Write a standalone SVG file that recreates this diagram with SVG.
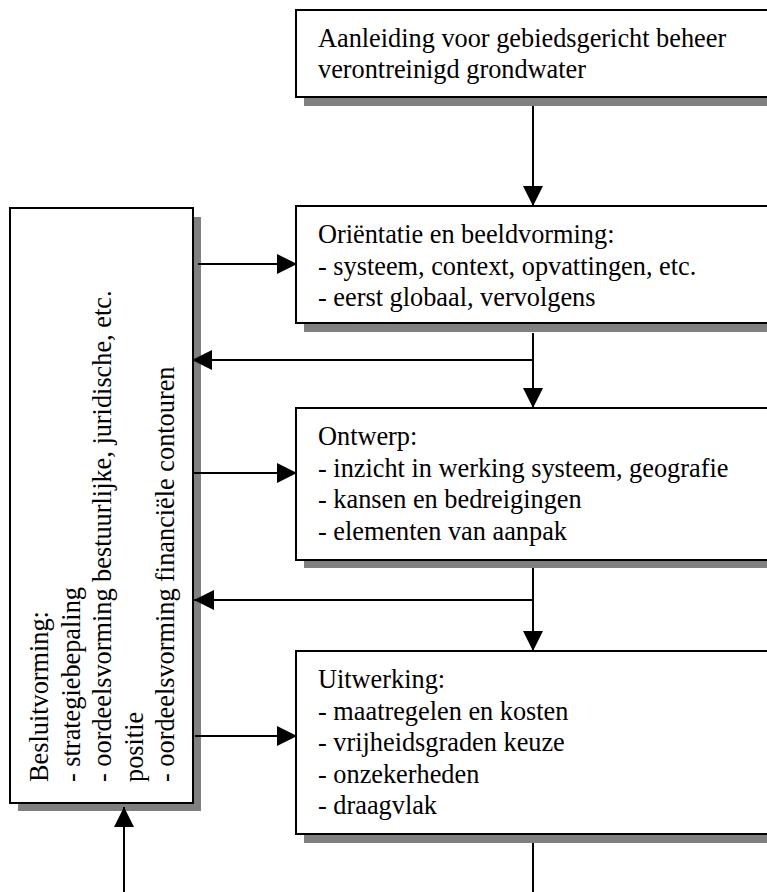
<svg xmlns="http://www.w3.org/2000/svg" width="767" height="892" viewBox="0 0 767 892">
<style>
.box{fill:#fff;stroke:#000;stroke-width:2}
.sh{fill:#808080}
.t{font-family:"Liberation Serif","Times New Roman",serif;font-size:26.3px;fill:#000}
.c{fill:none;stroke:#000;stroke-width:2}
</style>
<defs>
<marker id="ah" viewBox="0 0 20 20" markerUnits="userSpaceOnUse" markerWidth="20" markerHeight="20" refX="20" refY="10" orient="auto">
<path d="M0,0 L20,10 L0,20 z" fill="#000"/>
</marker>
</defs>
<rect width="767" height="892" fill="#fff"/>
<g id="aanleiding">
<rect class="sh" x="304" y="19" width="500" height="87"/>
<rect class="box" x="296" y="10" width="500" height="87"/>
<text class="t"><tspan x="318" y="47">Aanleiding voor gebiedsgericht beheer</tspan><tspan x="318" y="78">verontreinigd grondwater</tspan></text>
</g>
<g id="orientatie">
<rect class="sh" x="304" y="215" width="500" height="117"/>
<rect class="box" x="296" y="206" width="500" height="117"/>
<text class="t"><tspan x="318" y="243">Oriëntatie en beeldvorming:</tspan><tspan x="318" y="274.6">- systeem, context, opvattingen, etc.</tspan><tspan x="318" y="306.2">- eerst globaal, vervolgens</tspan></text>
</g>
<g id="ontwerp">
<rect class="sh" x="304" y="417" width="500" height="151"/>
<rect class="box" x="296" y="408" width="500" height="152"/>
<text class="t"><tspan x="318" y="445">Ontwerp:</tspan><tspan x="318" y="476.6">- inzicht in werking systeem, geografie</tspan><tspan x="318" y="508.2">- kansen en bedreigingen</tspan><tspan x="318" y="539.8">- elementen van aanpak</tspan></text>
</g>
<g id="uitwerking">
<rect class="sh" x="304" y="660" width="500" height="183"/>
<rect class="box" x="296" y="651" width="500" height="183"/>
<text class="t"><tspan x="318" y="688">Uitwerking:</tspan><tspan x="318" y="719.6">- maatregelen en kosten</tspan><tspan x="318" y="751.2">- vrijheidsgraden keuze</tspan><tspan x="318" y="782.8">- onzekerheden</tspan><tspan x="318" y="814.4">- draagvlak</tspan></text>
</g>
<g id="besluitvorming">
<rect class="sh" x="18" y="217" width="183" height="594"/>
<rect class="box" x="10" y="208" width="183" height="595"/>
<text class="t" transform="translate(0,782) rotate(-90)"><tspan x="0" y="48">Besluitvorming:</tspan><tspan x="0" y="79.6">- strategiebepaling</tspan><tspan x="0" y="111.2">- oordeelsvorming bestuurlijke, juridische, etc.</tspan><tspan x="0" y="142.8">positie</tspan><tspan x="0" y="174.4">- oordeelsvorming financiële contouren</tspan></text>
</g>
<g id="connectors">
<path class="c" d="M533,106 V206" marker-end="url(#ah)"/>
<path class="c" d="M198,264 H297" marker-end="url(#ah)"/>
<path class="c" d="M533,360 H192" marker-end="url(#ah)"/>
<path class="c" d="M533,333 V408" marker-end="url(#ah)"/>
<path class="c" d="M194,473 H297" marker-end="url(#ah)"/>
<path class="c" d="M533,600 H194" marker-end="url(#ah)"/>
<path class="c" d="M533,568 V651" marker-end="url(#ah)"/>
<path class="c" d="M195,736 H297" marker-end="url(#ah)"/>
<path class="c" d="M124,892 V807" marker-end="url(#ah)"/>
<path class="c" d="M533,843 V892"/>
</g>
</svg>
